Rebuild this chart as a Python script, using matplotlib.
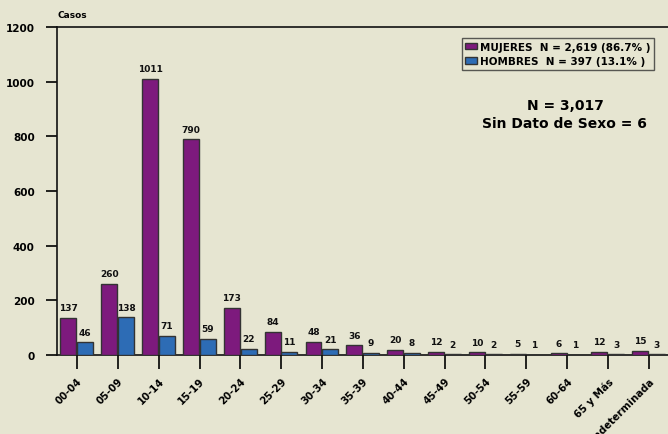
import matplotlib
matplotlib.use("Agg")
import matplotlib.pyplot as plt
import numpy as np
from matplotlib.patches import Patch

categories = ["00-04", "05-09", "10-14", "15-19", "20-24", "25-29", "30-34", "35-39",
              "40-44", "45-49", "50-54", "55-59", "60-64", "65 y Más", "Indeterminada"]
mujeres = [137, 260, 1011, 790, 173, 84, 48, 36, 20, 12, 10, 5, 6, 12, 15]
hombres = [46, 138, 71, 59, 22, 11, 21, 9, 8, 2, 2, 1, 1, 3, 3]
yticks = [0, 200, 400, 600, 800, 1000, 1200]
legend_labels = ["MUJERES  N = 2,619 (86.7% )", "HOMBRES  N = 397 (13.1% )"]

bg = "#E6E5D1"
purple = "#7D1A7D"
blue = "#2D6CB5"
edge = "#333333"

fig = plt.figure(figsize=(6.68, 4.35), dpi=100, facecolor=bg)
ax = fig.add_axes([0.0853, 0.1816, 1 - 0.0853, 0.9356 - 0.1816])
ax.set_facecolor(bg)

x = np.arange(len(categories))
w = 0.39
ax.bar(x - 0.21, mujeres, width=w, color=purple, edgecolor=edge, linewidth=1.0, zorder=3)
ax.bar(x + 0.2, hombres, width=w, color=blue, edgecolor=edge, linewidth=1.0, zorder=3)

for xi, v in zip(x, mujeres):
    ax.annotate(str(v), (xi - 0.21, v), xytext=(0, 4), textcoords="offset points",
                ha="center", va="bottom", fontsize=6.5, fontweight="bold", color="#111111")
for xi, v in zip(x, hombres):
    ax.annotate(str(v), (xi + 0.2, v), xytext=(0, 4), textcoords="offset points",
                ha="center", va="bottom", fontsize=6.5, fontweight="bold", color="#111111")

ax.set_xlim(-0.49, 14.47)
ax.set_ylim(0, 1200)
ax.set_yticks(yticks)
ax.set_yticklabels([str(t) for t in yticks], fontsize=7.5, fontweight="bold")
ax.set_xticks(x)
ax.set_xticklabels(categories, rotation=45, ha="right", rotation_mode="anchor",
                   fontsize=7.3, fontweight="bold")
ax.tick_params(axis="y", direction="out", length=8, width=1.2, pad=8)
ax.tick_params(axis="x", direction="out", length=10, width=1.2, pad=5)

for s in ["left", "bottom", "top"]:
    ax.spines[s].set_linewidth(1.2)
    ax.spines[s].set_color("#111111")
ax.spines["right"].set_visible(False)

fig.text(57 / 668, 1 - 16 / 435, "Casos", fontsize=6.5, fontweight="bold", va="center", ha="left")

handles = [Patch(facecolor=purple, edgecolor=edge), Patch(facecolor=blue, edgecolor=edge)]
leg = ax.legend(handles, legend_labels, loc="upper right", bbox_to_anchor=(654 / 668, 1 - 39 / 435),
                bbox_transform=fig.transFigure, prop={"size": 7.5, "weight": "bold"},
                frameon=True, fancybox=False, edgecolor="#333333", facecolor=bg,
                handlelength=1.1, handleheight=0.6, handletextpad=0.3, borderpad=0.35,
                labelspacing=0.45, borderaxespad=0)
leg.get_frame().set_linewidth(1.0)

fig.text(565 / 668, 1 - 106 / 435, "N = 3,017", fontsize=10, fontweight="bold", ha="center", va="center")
fig.text(564 / 668, 1 - 124 / 435, "Sin Dato de Sexo = 6", fontsize=10, fontweight="bold", ha="center", va="center")

fig.savefig("out.png", dpi=100, facecolor=bg)
